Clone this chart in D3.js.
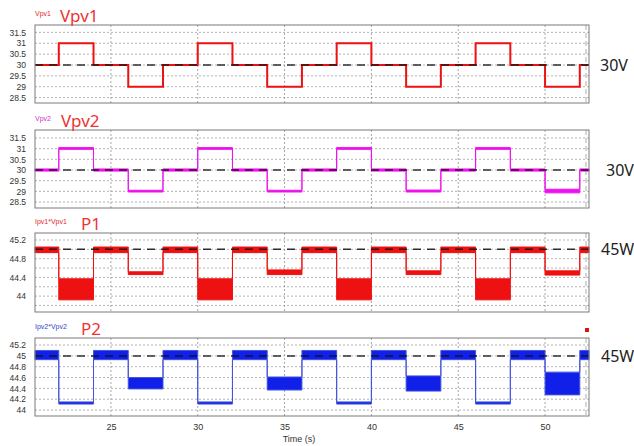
<!DOCTYPE html>
<html><head><meta charset="utf-8">
<script src="https://cdn.jsdelivr.net/npm/d3@7"></script>
<style>body{margin:0;background:#fff;}svg{display:block;font-family:"Liberation Sans",Arial,sans-serif;}</style>
</head><body><svg id="c" width="634" height="446"></svg>
<script>
// ---- data ----
const stepTimes = [20.63,22,24,26,28,30,32,34,36,38,40,42,44,46,48,50,52,52.53];
const vpv1 = [30,31,30,29,30,31,30,29,30,31,30,29,30,31,30,29,30];
const vpv2Low  = [29.95,30.97,29.95,28.97,29.95,30.97,29.95,28.97,29.95,30.97,29.95,28.97,29.95,30.97,29.95,28.93,29.95];
const vpv2High = [30.05,31.05,30.05,29.05,30.05,31.05,30.05,29.05,30.05,31.05,30.05,29.06,30.05,31.05,30.05,29.1,30.05];
const p1Low  = [44.93,43.92,44.93,44.46,44.93,43.92,44.93,44.46,44.93,43.92,44.93,44.46,44.93,43.92,44.93,44.45,44.93];
const p1High = [45.05,44.37,45.05,44.52,45.05,44.37,45.05,44.56,45.05,44.37,45.05,44.54,45.05,44.37,45.05,44.54,45.05];
const p2Low  = [44.93,44.11,44.93,44.39,44.93,44.11,44.93,44.37,44.93,44.11,44.93,44.35,44.93,44.11,44.93,44.28,44.93];
const p2High = [45.1,44.15,45.1,44.6,45.1,44.15,45.1,44.61,45.1,44.15,45.1,44.63,45.1,44.15,45.1,44.7,45.1];
const xTicks = [25,30,35,40,45,50];
const vTicks = [31.5,31,30.5,30,29.5,29,28.5];
const p1Ticks = [45.2,44.8,44.4,44];
const p1Grid = [45.2,45,44.8,44.6,44.4,44.2,44,43.8];
const p2Ticks = [45.2,45,44.8,44.6,44.4,44.2,44];

const svg = d3.select("#c");
const L = 35, R = 589;
const x = d3.scaleLinear().domain([20.63,52.53]).range([L,R]);

const panels = [
  {top:25,bottom:103,dom:[28.25,31.84],ticks:vTicks,grid:vTicks,ref:30,small:"Vpv1",big:"Vpv1",smallColor:"#e8262a",bigX:60,unit:"30V",unitX:600,color:"#ee1111",type:"line",vals:vpv1,sw:2},
  {top:130,bottom:208,dom:[28.22,31.875],ticks:vTicks,grid:vTicks,ref:30,small:"Vpv2",big:"Vpv2",smallColor:"#cc33cc",bigX:61,unit:"30V",unitX:606,color:"#ee11ee",type:"band",lo:vpv2Low,hi:vpv2High},
  {top:233,bottom:312,dom:[43.66,45.35],ticks:p1Ticks,grid:p1Grid,ref:45,small:"Ipv1*Vpv1",big:"P1",smallColor:"#e8262a",bigX:81,unit:"45W",unitX:601,color:"#ee1111",type:"band",lo:p1Low,hi:p1High},
  {top:338,bottom:416,dom:[43.89,45.33],ticks:p2Ticks,grid:p2Ticks,ref:45,small:"Ipv2*Vpv2",big:"P2",smallColor:"#3344cc",bigX:81,unit:"45W",unitX:601,color:"#1020e8",type:"band",lo:p2Low,hi:p2High,edge:"#4455dd"}
];

const idx = d3.range(stepTimes.length);
panels.forEach(p=>{
  const y = d3.scaleLinear().domain(p.dom).range([p.bottom,p.top]);
  const g = svg.append("g");
  g.append("rect").attr("x",L).attr("y",p.top).attr("width",R-L).attr("height",p.bottom-p.top)
   .attr("fill","#fff").attr("stroke","none");
  // horizontal grid
  g.selectAll(".hg").data(p.grid).join("line")
   .attr("x1",L).attr("x2",R).attr("y1",d=>y(d)).attr("y2",d=>y(d))
   .attr("stroke","#a0a0a0").attr("stroke-width",0.8).attr("stroke-dasharray","2,2");
  // vertical grid
  g.selectAll(".vg").data(xTicks).join("line")
   .attr("x1",d=>x(d)).attr("x2",d=>x(d)).attr("y1",p.top).attr("y2",p.bottom)
   .attr("stroke","#909090").attr("stroke-width",0.8).attr("stroke-dasharray","2,2");
  g.append("line").attr("x1",R-3).attr("x2",R-3).attr("y1",p.top).attr("y2",p.bottom)
   .attr("stroke","#999").attr("stroke-width",0.8).attr("stroke-dasharray","5,3");
  // y axis
  const ax = g.append("g").attr("transform",`translate(${L},0)`)
   .call(d3.axisLeft(y).tickValues(p.ticks).tickSize(0).tickPadding(9).tickFormat(d=>d3.format("")(d)));
  ax.select(".domain").remove();
  ax.selectAll("text").attr("font-size",8.5).attr("fill","#333");
  // data
  const last = stepTimes.length-1;
  if(p.type==="line"){
    const line = d3.line().x(i=>x(stepTimes[i])).y(i=>y(p.vals[Math.min(i,last-1)])).curve(d3.curveStepAfter);
    g.append("path").attr("d",line(idx)).attr("fill","none").attr("stroke",p.color).attr("stroke-width",p.sw);
  } else {
    const area = d3.area().x(i=>x(stepTimes[i])).y0(i=>y(p.lo[Math.min(i,last-1)])).y1(i=>y(p.hi[Math.min(i,last-1)])).curve(d3.curveStepAfter);
    g.append("path").attr("d",area(idx)).attr("fill",p.color).attr("stroke",p.edge||p.color).attr("stroke-width",1);
  }
  // reference dashed
  g.append("line").attr("x1",L).attr("x2",R).attr("y1",y(p.ref)).attr("y2",y(p.ref))
   .attr("stroke","#111").attr("stroke-width",1.5).attr("stroke-dasharray","8,6").attr("opacity",0.85);
  // border
  g.append("rect").attr("x",L).attr("y",p.top).attr("width",R-L).attr("height",p.bottom-p.top)
   .attr("fill","none").attr("stroke","#7a7a7a").attr("stroke-width",1);
  // labels
  g.append("text").attr("x",L).attr("y",p.top-9).attr("font-size",7).attr("fill",p.smallColor).text(p.small);
  g.append("text").attr("x",p.bigX).attr("y",p.top-3).attr("font-size",17).attr("fill","#ee3333")
   .attr("font-family","'Noto Sans',sans-serif").text(p.big);
  g.append("text").attr("x",p.unitX).attr("y",y(p.ref)+6).attr("font-size",16).attr("fill","#222")
   .attr("font-family","'Noto Sans',sans-serif").text(p.unit);
});

// x axis
const xa = svg.append("g").attr("transform","translate(0,416)")
  .call(d3.axisBottom(x).tickValues(xTicks).tickSize(0).tickPadding(8));
xa.select(".domain").remove();
xa.selectAll("text").attr("font-size",9).attr("fill","#333");
svg.append("text").attr("x",299).attr("y",442).attr("text-anchor","middle").attr("font-size",9).attr("fill","#333").text("Time (s)");
svg.append("rect").attr("x",585).attr("y",328).attr("width",4).attr("height",4).attr("fill","#e01010");
</script></body></html>
